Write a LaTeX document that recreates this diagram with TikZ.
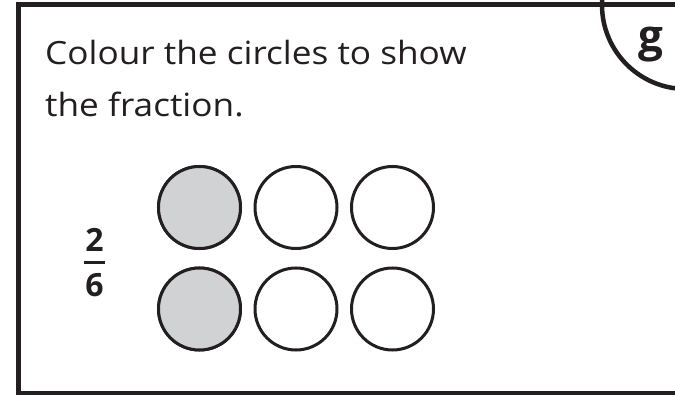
\documentclass[tikz,border=0pt]{standalone}
\usepackage{fontspec}
\setmainfont{Open Sans}
\newfontfamily\taskfont[FakeStretch=1.1]{Open Sans}
\usepackage{tikz}
\usetikzlibrary{positioning}
\definecolor{inkdark}{HTML}{231F20}
\definecolor{shadegrey}{HTML}{D1D2D4}
\tikzset{
	ring/.style={circle, draw=inkdark, line width=3pt, minimum size=82pt, inner sep=0pt},
	shaded/.style={ring, fill=shadegrey},
	task/.style={anchor=base west, inner sep=0pt, text=inkdark, font=\taskfont\fontsize{32}{38}\selectfont},
	digit/.style={inner sep=0pt, text=inkdark, font=\fontsize{32}{36}\selectfont\bfseries}
}

\begin{document}
\begin{tikzpicture}[x=1pt,y=-1pt]
		\useasboundingbox (0,0) rectangle (675,395);
		\clip (0,0) rectangle (675,395);
		
		% Card border and corner tab
		\draw[line width=5pt, inkdark] (18.5,4.5) rectangle (720,393.5);
		\draw[line width=4.5pt, inkdark] (686,5) circle (84);
		\node[digit, font=\fontsize{44}{48}\selectfont\bfseries] (tab) at (651,45) {g};
		
		% Instruction
		\node[task] (line1) at (45,65) {Colour the circles to show};
		\node[task] (line2) at (45,117) {the fraction.};
		
		% Fraction
		\node[digit] (num) at (94.5,240) {2};
		\node[digit] (den) at (94.5,285) {6};
		\coordinate (barL) at (84,263);
		\coordinate (barR) at (105,263);
		\draw[line width=3pt, inkdark] (barL) -- (barR);
		
		% Circles
		\foreach \col/\x in {1/199.5, 2/296, 3/392.5}
		\foreach \row/\y in {1/207.5, 2/309}
		\node[ring] (c\row\col) at (\x,\y) {};
		\node[shaded] at (c11) {};
		\node[shaded] at (c21) {};
	\end{tikzpicture}
\end{document}
